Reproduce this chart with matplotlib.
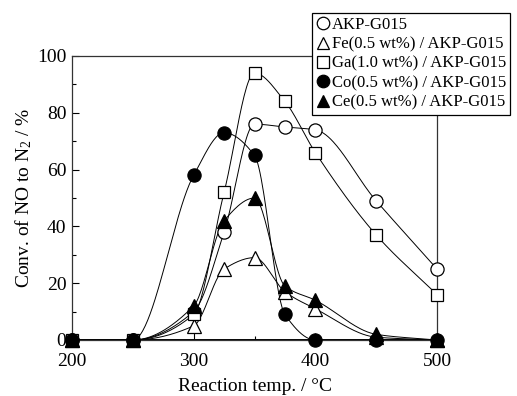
import numpy as np
import matplotlib
matplotlib.use('Agg')
import matplotlib.pyplot as plt
from matplotlib.lines import Line2D
from matplotlib.ticker import MultipleLocator

plt.rcParams['font.family'] = ['Liberation Serif', 'DejaVu Serif']
plt.rcParams['mathtext.fontset'] = 'custom'
plt.rcParams['mathtext.rm'] = 'Liberation Serif'
plt.rcParams['mathtext.it'] = 'Liberation Serif:italic'

# Temperaturas de reacao (°C)
temps = [200, 250, 300, 325, 350, 375, 400, 450, 500]

# Conversao de NO a N2 (%) por catalisador
akp = [0, 0, 10, 38, 76, 75, 74, 49, 25]
fe = [0, 0, 5, 25, 29, 17, 11, 1, 0]
ga = [0, 0, 9, 52, 94, 84, 66, 37, 16]
co = [0, 0, 58, 73, 65, 9, 0, 0, 0]
ce = [0, 0, 12, 42, 50, 19, 14, 2, 0]

labels = ['AKP-G015', 'Fe(0.5 wt%) / AKP-G015', 'Ga(1.0 wt%) / AKP-G015',
          'Co(0.5 wt%) / AKP-G015', 'Ce(0.5 wt%) / AKP-G015']


def curva_suave(x, y, n=300):
    # cubica monotona (Fritsch-Carlson) so para desenhar a linha
    x = np.asarray(x, float)
    y = np.asarray(y, float)
    h = np.diff(x)
    d = np.diff(y) / h
    m = np.zeros_like(y)
    m[0], m[-1] = d[0], d[-1]
    for i in range(1, len(x) - 1):
        if d[i - 1] * d[i] <= 0:
            m[i] = 0
        else:
            w1 = 2 * h[i] + h[i - 1]
            w2 = h[i] + 2 * h[i - 1]
            m[i] = (w1 + w2) / (w1 / d[i - 1] + w2 / d[i])
    xs = np.linspace(x[0], x[-1], n)
    idx = np.clip(np.searchsorted(x, xs) - 1, 0, len(x) - 2)
    t = (xs - x[idx]) / h[idx]
    h00 = 2 * t**3 - 3 * t**2 + 1
    h10 = t**3 - 2 * t**2 + t
    h01 = -2 * t**3 + 3 * t**2
    h11 = t**3 - t**2
    ys = h00 * y[idx] + h10 * h[idx] * m[idx] + h01 * y[idx + 1] + h11 * h[idx] * m[idx + 1]
    return xs, ys


fig = plt.figure(figsize=(5.17, 3.96), dpi=100)
ax = fig.add_axes([72 / 517, 1 - 340 / 396, (437 - 72) / 517, (340 - 56) / 396])

series = [
    (akp, 'o', 'white'),
    (fe, '^', 'white'),
    (ga, 's', 'white'),
    (co, 'o', 'black'),
    (ce, '^', 'black'),
]

for vals, mk, fc in series:
    xs, ys = curva_suave(temps, vals)
    ax.plot(xs, ys, color='black', lw=0.7, zorder=2, clip_on=False)

for vals, mk, fc in series:
    ax.plot(temps, vals, linestyle='none', marker=mk, ms=9.5 if mk != 's' else 9,
            mfc=fc, mec='black', mew=0.9, zorder=3, clip_on=False)

ax.axhline(0, color='black', lw=1.4, zorder=2.5)

ax.set_xlim(200, 500)
ax.set_ylim(0, 100)
ax.xaxis.set_major_locator(MultipleLocator(100))
ax.xaxis.set_minor_locator(MultipleLocator(50))
ax.yaxis.set_major_locator(MultipleLocator(20))
ax.yaxis.set_minor_locator(MultipleLocator(10))
ax.tick_params(which='both', direction='in', labelsize=14, top=False, right=False)
ax.tick_params(which='major', length=5, width=0.8)
ax.tick_params(which='minor', length=3, width=0.8)
ax.tick_params(axis='x', pad=9)
ax.tick_params(axis='y', pad=4)
for s in ax.spines.values():
    s.set_linewidth(0.9)
    s.set_color('#333333')

ax.set_xlabel('Reaction temp. / °C', fontsize=14, labelpad=6)
ax.set_ylabel('Conv. of NO to N$_2$ / %', fontsize=14, labelpad=2)

handles = [Line2D([], [], linestyle='none', marker=mk, ms=9, mfc=fc, mec='black', mew=0.9)
           for vals, mk, fc in series]
leg = fig.legend(handles, labels, loc='upper left', bbox_to_anchor=(312 / 517, 1 - 13 / 396),
                 bbox_transform=fig.transFigure, borderaxespad=0, fontsize=12,
                 handlelength=0.8, handletextpad=0.15, labelspacing=0.2, borderpad=0.25,
                 fancybox=False, edgecolor='black', framealpha=1)
leg.get_frame().set_linewidth(0.9)
leg.set_zorder(10)

fig.savefig('out.png', dpi=100)
